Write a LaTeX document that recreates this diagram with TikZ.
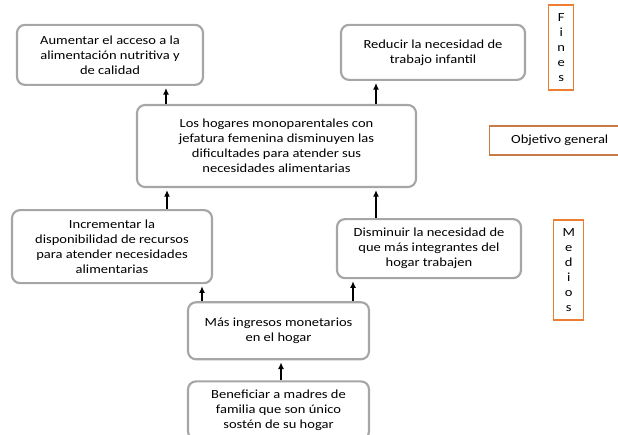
\documentclass[tikz,border=0pt]{standalone}
\usepackage{fontspec}
\setmainfont{Carlito}[FakeStretch=1.17]
\usetikzlibrary{positioning,arrows.meta}
\definecolor{boxgray}{HTML}{A6A6A6}
\definecolor{tagorange}{HTML}{ED7D31}
\definecolor{objorange}{HTML}{C97B45}
\tikzset{
  meta/.style={draw=boxgray, line width=1.6pt, rounded corners=6pt, fill=white, align=center,
    font=\fontsize{9.3}{11.25}\selectfont, inner sep=2pt},
  tag/.style={draw=tagorange, line width=1pt, fill=white, align=center,
    font=\fontsize{9.3}{11.25}\selectfont, inner sep=0pt},
  up/.style={-{Latex[length=5pt,width=4.5pt]}, line width=1pt, shorten >=1.5pt}
}

\begin{document}
\begin{tikzpicture}
\useasboundingbox (0,0) rectangle (463.5pt,-326.25pt);
\node[meta, minimum width=209.25pt, minimum height=61.5pt] (hogares) at (207.375pt,-109.5pt)
  {Los hogares monoparentales con\\jefatura femenina disminuyen las\\dificultades para atender sus\\necesidades alimentarias};
\node[meta, minimum width=139.5pt, minimum height=45pt, above=13.5pt of hogares, xshift=-124.875pt] (acceso)
  {Aumentar el acceso a la\\alimentación nutritiva y\\de calidad};
\node[meta, minimum width=138pt, minimum height=41.25pt, above=17.25pt of hogares, xshift=117.375pt] (infantil)
  {Reducir la necesidad de\\trabajo infantil};
\node[meta, minimum width=150pt, minimum height=54.75pt, below=15.75pt of hogares, xshift=-123.375pt] (recursos)
  {Incrementar la\\disponibilidad de recursos\\para atender necesidades\\alimentarias};
\node[meta, minimum width=138pt, minimum height=44.25pt, below=22.5pt of hogares, xshift=114.375pt] (integrantes)
  {Disminuir la necesidad de\\que más integrantes del\\hogar trabajen};
\node[meta, minimum width=135.75pt, minimum height=42.75pt, below=12.75pt of recursos, xshift=124.875pt] (ingresos)
  {Más ingresos monetarios\\en el hogar};
\node[meta, minimum width=135.75pt, minimum height=43.5pt, below=15pt of ingresos] (madres)
  {Beneficiar a madres de\\familia que son único\\sostén de su hogar};
\node[tag, minimum width=18.75pt, minimum height=63.75pt, right=16.5pt of infantil, yshift=3.75pt] (fines)
  {F\\i\\n\\e\\s};
\node[tag, draw=objorange, minimum width=105pt, minimum height=21.75pt, right=54pt of hogares, yshift=4.125pt] (objetivo)
  {Objetivo general};
\node[tag, minimum width=22.5pt, minimum height=75pt, right=23.25pt of integrantes, yshift=-16.125pt] (medios)
  {M\\e\\d\\i\\o\\s};
\coordinate (xacceso) at (124.5pt,0);
\coordinate (xinfantil) at (282pt,0);
\coordinate (xrecursos) at (125.25pt,0);
\coordinate (xingresosa) at (151.5pt,0);
\coordinate (xingresosb) at (264.75pt,0);
\coordinate (xmadres) at (210.75pt,0);
\draw[up] (hogares.north -| xacceso) -- (acceso.south -| xacceso);
\draw[up] (hogares.north -| xinfantil) -- (infantil.south -| xinfantil);
\draw[up] (recursos.north -| xrecursos) -- (hogares.south -| xrecursos);
\draw[up] (integrantes.north -| xinfantil) -- (hogares.south -| xinfantil);
\draw[up] (ingresos.north -| xingresosa) -- (recursos.south -| xingresosa);
\draw[up] (ingresos.north -| xingresosb) -- (integrantes.south -| xingresosb);
\draw[up] (madres.north -| xmadres) -- (ingresos.south -| xmadres);
\end{tikzpicture}
\end{document}
